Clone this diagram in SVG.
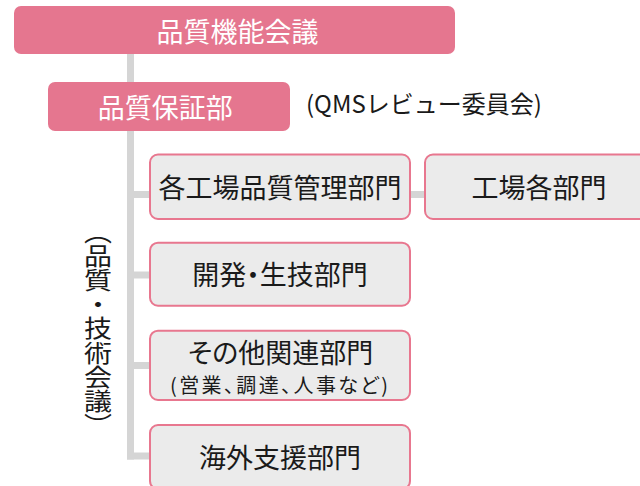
<svg xmlns="http://www.w3.org/2000/svg" width="640" height="486" viewBox="0 0 640 486">
<style>
text{font-family:"Noto Sans CJK JP","Noto Sans",sans-serif;font-feature-settings:"palt";}
.pink{fill:#e5768f;}
.gray{fill:#ebebeb;stroke:#e8778f;stroke-width:2;}
.wt{fill:#ffffff;font-size:27px;text-anchor:middle;}
.bt{fill:#1a1a1a;font-size:27px;text-anchor:middle;}
.conn{stroke:#d5d5d5;stroke-width:7;fill:none;}
</style>
<rect width="640" height="486" fill="#ffffff"/>
<g id="connectors">
<line class="conn" x1="130.5" y1="54" x2="130.5" y2="459.5"/>
<line class="conn" x1="130.5" y1="194.5" x2="150" y2="194.5"/>
<line class="conn" x1="130.5" y1="275" x2="150" y2="275"/>
<line class="conn" x1="130.5" y1="365.5" x2="150" y2="365.5"/>
<line class="conn" x1="127" y1="456" x2="150" y2="456"/>
<line class="conn" x1="410" y1="194.5" x2="425" y2="194.5"/>
</g>
<g id="node-quality-function-meeting">
<rect class="pink" x="14" y="6" width="441" height="48" rx="7"/>
<text class="wt" x="237.5" y="42">品質機能会議</text>
</g>
<g id="node-qa-dept">
<rect class="pink" x="48" y="82" width="242" height="49" rx="7"/>
<text class="wt" x="165.3" y="118">品質保証部</text>
</g>
<g id="label-qms">
<text x="306" y="113" style="fill:#1a1a1a;font-size:24px;font-feature-settings:normal;">(QMSレビュー委員会)</text>
</g>
<g id="label-vertical">
<text transform="translate(98,220) scale(1,0.86)" x="0" y="0" style="fill:#1a1a1a;font-size:28px;writing-mode:vertical-rl;font-feature-settings:normal;">（品質・技術会議）</text>
</g>
<g id="node-factory-qm">
<rect class="gray" x="150" y="154.5" width="260" height="64.5" rx="8"/>
<text class="bt" x="280" y="197.5">各工場品質管理部門</text>
</g>
<g id="node-factory-depts">
<rect class="gray" x="425" y="154.5" width="228" height="64.5" rx="8"/>
<text class="bt" x="539" y="197.5">工場各部門</text>
</g>
<g id="node-dev">
<rect class="gray" x="150" y="242.7" width="260" height="63" rx="8"/>
<text class="bt" x="280" y="285">開発・生技部門</text>
</g>
<g id="node-other">
<rect class="gray" x="150" y="330.7" width="260" height="69.3" rx="8"/>
<text class="bt" x="280.5" y="362.5">その他関連部門</text>
<text class="bt" x="279" y="393" textLength="218" lengthAdjust="spacing" style="font-size:20px;">(営業、調達、人事など)</text>
</g>
<g id="node-overseas">
<rect class="gray" x="150" y="425" width="260" height="64" rx="8"/>
<text class="bt" x="280" y="468">海外支援部門</text>
</g>
</svg>
